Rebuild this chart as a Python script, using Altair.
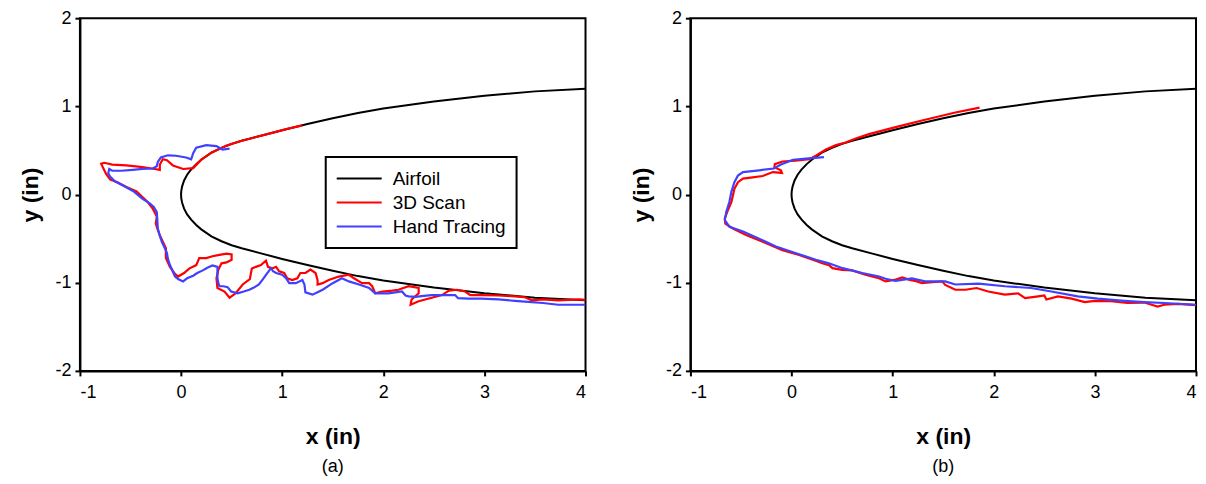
import altair as alt
import pandas as pd

# ---------------- data (inches) ----------------
airfoil_x = [4.0, 3.5, 3.0, 2.5, 2.0, 1.75, 1.5, 1.25, 1.0, 0.8, 0.6, 0.5, 0.4, 0.3,
             0.2, 0.15, 0.1, 0.06, 0.03, 0.01, 0.002, 0.0]
airfoil_y = [1.20, 1.17, 1.12, 1.055, 0.975, 0.925, 0.865, 0.80, 0.73, 0.67, 0.61, 0.575,
             0.53, 0.475, 0.395, 0.345, 0.285, 0.225, 0.16, 0.09, 0.04, 0.0]

scan_a = [(1.2, 0.785), (1.05, 0.745), (0.9, 0.70), (0.75, 0.655), (0.6, 0.61), (0.45, 0.555),
          (0.3, 0.475), (0.2, 0.395), (0.12, 0.30), (0.02, 0.29), (-0.08, 0.33), (-0.14, 0.39),
          (-0.18, 0.40), (-0.21, 0.34), (-0.21, 0.28), (-0.26, 0.29), (-0.38, 0.31), (-0.54, 0.33),
          (-0.68, 0.34), (-0.76, 0.36), (-0.79, 0.35), (-0.77, 0.30), (-0.74, 0.23), (-0.70, 0.17),
          (-0.63, 0.14), (-0.54, 0.085), (-0.44, 0.035), (-0.39, -0.02), (-0.33, -0.085),
          (-0.28, -0.16), (-0.24, -0.25), (-0.25, -0.33), (-0.23, -0.40), (-0.21, -0.46),
          (-0.18, -0.535), (-0.15, -0.61), (-0.15, -0.72), (-0.11, -0.82), (-0.06, -0.90),
          (-0.03, -0.93), (0.03, -0.89), (0.08, -0.84), (0.15, -0.80), (0.18, -0.72), (0.25, -0.72),
          (0.31, -0.70), (0.38, -0.685), (0.45, -0.67), (0.50, -0.68), (0.50, -0.74), (0.45, -0.77),
          (0.40, -0.78), (0.37, -0.85), (0.35, -0.95), (0.36, -1.06), (0.43, -1.10), (0.48, -1.17),
          (0.54, -1.12), (0.61, -1.02), (0.68, -0.96), (0.70, -0.84), (0.74, -0.82), (0.79, -0.80),
          (0.84, -0.75), (0.86, -0.82), (0.90, -0.84), (0.94, -0.82), (0.97, -0.87), (1.02, -0.89),
          (1.05, -0.95), (1.10, -0.97), (1.15, -0.95), (1.18, -0.89), (1.23, -0.89), (1.28, -0.85),
          (1.33, -0.89), (1.35, -0.97), (1.35, -1.02), (1.40, -1.005), (1.46, -0.97), (1.56, -0.93),
          (1.66, -0.91), (1.71, -0.95), (1.79, -1.005), (1.86, -1.005), (1.89, -1.04), (1.92, -1.12),
          (1.99, -1.10), (2.09, -1.09), (2.15, -1.08), (2.25, -1.04), (2.35, -1.06), (2.35, -1.12),
          (2.28, -1.19), (2.27, -1.25), (2.35, -1.21), (2.48, -1.17), (2.58, -1.14), (2.65, -1.09),
          (2.73, -1.08), (2.81, -1.10), (2.86, -1.14), (2.97, -1.14), (3.14, -1.145), (3.30, -1.155),
          (3.40, -1.165), (3.47, -1.20), (3.57, -1.19), (3.73, -1.20), (3.94, -1.19), (4.0, -1.195)]

hand_a = [(0.48, 0.52), (0.41, 0.51), (0.35, 0.55), (0.25, 0.56), (0.15, 0.53), (0.12, 0.47),
          (0.10, 0.40), (0.05, 0.42), (-0.05, 0.44), (-0.13, 0.445), (-0.20, 0.42), (-0.23, 0.37),
          (-0.24, 0.32), (-0.28, 0.295), (-0.38, 0.29), (-0.48, 0.28), (-0.59, 0.27), (-0.68, 0.27),
          (-0.71, 0.29), (-0.72, 0.24), (-0.70, 0.20), (-0.655, 0.15), (-0.57, 0.10), (-0.475, 0.04),
          (-0.41, -0.02), (-0.38, -0.05), (-0.31, -0.10), (-0.27, -0.14), (-0.24, -0.20),
          (-0.235, -0.28), (-0.23, -0.385), (-0.21, -0.47), (-0.19, -0.535), (-0.16, -0.61),
          (-0.14, -0.66), (-0.13, -0.73), (-0.11, -0.80), (-0.09, -0.85), (-0.06, -0.93),
          (-0.025, -0.96), (0.02, -0.985), (0.06, -0.95), (0.12, -0.92), (0.16, -0.89),
          (0.215, -0.86), (0.26, -0.83), (0.31, -0.805), (0.36, -0.82), (0.36, -0.885), (0.36, -0.95),
          (0.37, -1.01), (0.38, -1.04), (0.42, -1.04), (0.46, -1.05), (0.495, -1.10), (0.56, -1.12),
          (0.62, -1.10), (0.675, -1.08), (0.72, -1.055), (0.77, -1.02), (0.81, -0.96), (0.84, -0.91),
          (0.89, -0.835), (0.91, -0.87), (0.94, -0.89), (1.00, -0.91), (1.04, -0.95), (1.07, -1.005),
          (1.135, -1.005), (1.20, -0.97), (1.22, -1.02), (1.23, -1.11), (1.30, -1.135), (1.345, -1.11),
          (1.40, -1.08), (1.50, -1.005), (1.59, -0.95), (1.66, -0.985), (1.76, -1.02), (1.86, -1.06),
          (1.92, -1.12), (1.985, -1.12), (2.05, -1.12), (2.12, -1.11), (2.185, -1.10), (2.22, -1.145),
          (2.25, -1.155), (2.32, -1.16), (2.40, -1.15), (2.48, -1.14), (2.60, -1.14), (2.71, -1.14),
          (2.74, -1.175), (2.84, -1.18), (2.97, -1.18), (3.14, -1.19), (3.30, -1.205), (3.47, -1.22),
          (3.58, -1.23), (3.73, -1.25), (3.88, -1.25), (4.0, -1.25)]

scan_b = [(1.86, 0.985), (1.62, 0.93), (1.29, 0.84), (1.03, 0.765), (0.765, 0.685), (0.635, 0.635),
          (0.535, 0.59), (0.44, 0.56), (0.34, 0.51), (0.24, 0.44), (0.175, 0.40), (0.04, 0.385),
          (-0.09, 0.375), (-0.165, 0.345), (-0.17, 0.31), (-0.105, 0.275), (-0.095, 0.245),
          (-0.185, 0.255), (-0.285, 0.21), (-0.385, 0.195), (-0.48, 0.18), (-0.53, 0.14),
          (-0.565, 0.065), (-0.58, -0.01), (-0.595, -0.085), (-0.63, -0.18), (-0.66, -0.27),
          (-0.655, -0.33), (-0.58, -0.385), (-0.45, -0.46), (-0.285, -0.535), (-0.09, -0.63),
          (0.075, -0.685), (0.21, -0.74), (0.305, -0.78), (0.37, -0.80), (0.405, -0.835),
          (0.50, -0.855), (0.60, -0.86), (0.73, -0.91), (0.865, -0.95), (0.93, -0.985), (1.03, -0.965),
          (1.095, -0.94), (1.16, -0.965), (1.24, -0.985), (1.29, -1.005), (1.39, -0.995), (1.49, -0.985),
          (1.52, -1.025), (1.62, -1.08), (1.72, -1.08), (1.83, -1.06), (1.945, -1.10), (2.11, -1.135),
          (2.24, -1.12), (2.31, -1.175), (2.44, -1.155), (2.50, -1.145), (2.52, -1.19), (2.635, -1.155),
          (2.77, -1.18), (2.90, -1.22), (3.0, -1.205), (3.16, -1.21), (3.32, -1.23), (3.49, -1.225),
          (3.62, -1.27), (3.685, -1.25), (3.82, -1.24), (4.0, -1.255)]

hand_b = [(0.32, 0.425), (0.17, 0.41), (0.015, 0.395), (-0.105, 0.34), (-0.175, 0.295), (-0.32, 0.275),
          (-0.48, 0.255), (-0.53, 0.215), (-0.565, 0.14), (-0.595, 0.03), (-0.615, -0.085),
          (-0.645, -0.195), (-0.66, -0.29), (-0.615, -0.365), (-0.48, -0.42), (-0.32, -0.50),
          (-0.155, -0.59), (0.045, -0.665), (0.24, -0.74), (0.37, -0.78), (0.505, -0.835), (0.70, -0.89),
          (0.865, -0.93), (0.93, -0.955), (1.03, -0.98), (1.19, -0.95), (1.32, -0.985), (1.52, -0.985),
          (1.62, -1.02), (1.85, -1.01), (2.11, -1.04), (2.37, -1.06), (2.57, -1.10), (2.83, -1.155),
          (3.03, -1.18), (3.29, -1.205), (3.49, -1.22), (3.685, -1.23), (4.0, -1.25)]

series_names = ["Airfoil", "3D Scan", "Hand Tracing"]
series_colors = ["#000000", "#ff0000", "#4040ff"]
series_widths = [2.0, 2.2, 2.2]
x_ticks = [-1, 0, 1, 2, 3, 4]
y_ticks = [-2, -1, 0, 1, 2]
FONT = "Liberation Sans"


def build_frame(scan, hand):
    upper = list(zip(airfoil_x, airfoil_y))
    lower = [(x, -y) for x, y in reversed(upper)][1:]
    rows = []
    for name, pts in zip(series_names, [upper + lower, scan, hand]):
        for i, (x, y) in enumerate(pts):
            rows.append({"series": name, "i": i, "x": x, "y": y})
    return pd.DataFrame(rows)


def panel(df, label):
    xenc = alt.X("x:Q", scale=alt.Scale(domain=[-1, 4], nice=False, zero=False),
                 axis=alt.Axis(values=x_ticks, title="x (in)", labelExpr="'' + datum.value"))
    yenc = alt.Y("y:Q", scale=alt.Scale(domain=[-2, 2], nice=False, zero=False),
                 axis=alt.Axis(values=y_ticks, title="y (in)", labelExpr="'' + datum.value"))
    cenc = alt.Color("series:N",
                     scale=alt.Scale(domain=series_names, range=series_colors),
                     legend=alt.Legend(orient="none", legendX=246, legendY=139, title=None))
    layers = []
    for name, sw in zip(series_names, series_widths):
        layers.append(
            alt.Chart(df)
            .transform_filter(alt.datum.series == name)
            .mark_line(strokeWidth=sw, clip=True)
            .encode(x=xenc, y=yenc, color=cenc, order="i:Q")
        )
    return alt.layer(*layers).properties(
        width=506, height=353,
        title=alt.TitleParams(label, orient="bottom", anchor="middle", frame="group", offset=9),
    )


left = panel(build_frame(scan_a, hand_a), "(a)")
right = panel(build_frame(scan_b, hand_b), "(b)")

chart = (
    alt.hconcat(left, right, spacing=41)
    .properties(padding={"left": 10, "top": 0, "right": 0, "bottom": 2})
    .configure_view(stroke="black", strokeWidth=2)
    .configure_axis(grid=False, domainColor="black", domainWidth=2, tickColor="black",
                    tickWidth=2, tickSize=5, labelFont=FONT, labelFontSize=18, labelColor="black",
                    titleFont=FONT, titleFontSize=23, titleFontWeight="bold", titleColor="black")
    .configure_axisX(labelPadding=8, titlePadding=24)
    .configure_axisY(labelPadding=4, titlePadding=12)
    .configure_legend(strokeColor="black", strokeWidth=2, padding=10, labelFont=FONT,
                      labelFontSize=19, labelColor="black", symbolType="M-1,0H3.5",
                      symbolSize=400, symbolStrokeWidth=2, labelOffset=35, rowPadding=1,
                      clipHeight=23)
    .configure_title(font=FONT, fontSize=18, fontWeight="normal", color="black")
)

chart.save("out.html", embed_options={"renderer": "svg", "actions": False})
